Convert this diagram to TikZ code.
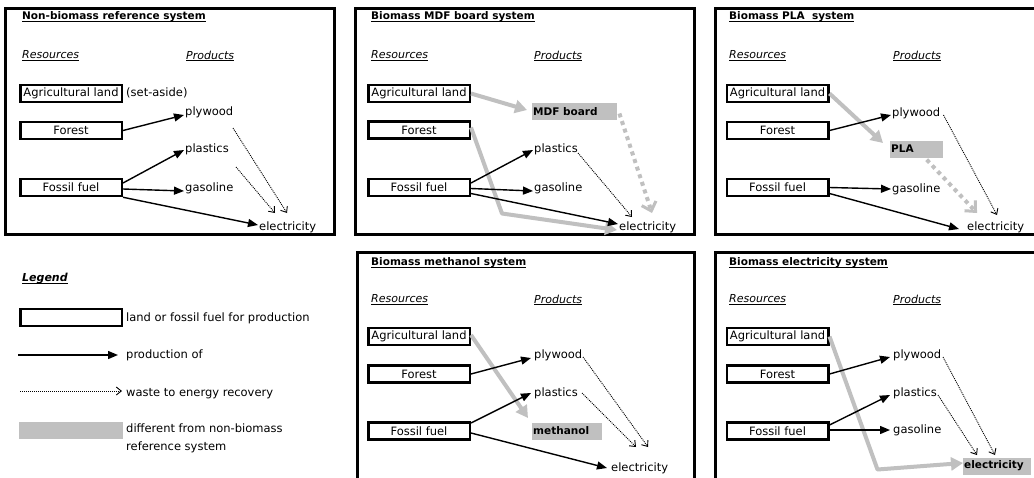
\documentclass[tikz,border=0pt]{standalone}
\usepackage{fontspec}
\setmainfont{DejaVu Sans}
\usetikzlibrary{arrows.meta}
\definecolor{silver}{RGB}{192,192,192}
\newcommand\uln[1]{\setbox0\hbox{#1}\leavevmode\rlap{\rule[-2.2pt]{\wd0}{1.1pt}}\box0}
\newcommand\fn{\fontsize{11.5}{14}\selectfont}
\tikzset{
 frame/.style={line width=3pt},
 resbox/.style={draw, line width=2.5pt, minimum width=101.5pt, minimum height=17pt, inner sep=0pt, font=\fn},
 txt/.style={anchor=west, inner sep=0pt, text height=8.5pt, text depth=2.5pt, font=\fn},
 ttl/.style={anchor=west, inner sep=0pt, font=\bfseries\fontsize{10.5}{12}\selectfont},
 hdr/.style={anchor=west, inner sep=0pt, font=\itshape\fontsize{11}{13}\selectfont},
 prod/.style={fill=silver, anchor=west, inner xsep=1pt, inner ysep=0pt, minimum height=17pt, align=left, font=\bfseries\fontsize{10.5}{12}\selectfont},
 arr/.style={line width=1.4pt, -{Triangle[length=10pt,width=8pt]}},
 dotarr/.style={line width=0.9pt, dash pattern=on 1pt off 1pt, -{Straight Barb[length=5pt,width=8pt,line width=0.9pt]}},
 garr/.style={line width=4pt, silver, line join=round, -{Triangle[length=12pt,width=13pt]}},
 gdot/.style={line width=4pt, silver, dash pattern=on 4pt off 4pt, -{Straight Barb[length=8pt,width=15pt,line width=3pt]}},
}
\begin{document}
\begin{tikzpicture}[x=1pt,y=-1pt]
\clip (0,0) rectangle (1034,477);
\fill[white] (0,0) rectangle (1034,477);

% ---------- Panel 1: Non-biomass reference system
\draw[frame] (5,8) rectangle (334,234);
\node[ttl] (t1) at (22,17) {\uln{Non-biomass reference system}};
\node[hdr] (r1) at (22,56) {\uln{Resources}};
\node[hdr] (p1) at (186,56) {\uln{Products}};
\node[resbox] (ag1) at (71,93.5) {Agricultural land};
\node[txt] (sa1) at (126,93.5) {(set-aside)};
\node[resbox] (fo1) at (71,130.5) {Forest};
\node[resbox] (ff1) at (71,187.5) {Fossil fuel};
\node[txt] (ply1) at (185,112) {plywood};
\node[txt] (pla1) at (185,149) {plastics};
\node[txt] (gas1) at (185,188) {gasoline};
\node[txt] (ele1) at (259,227) {electricity};
\draw[arr] (fo1.east) -- ([xshift=-1pt,yshift=-3pt]ply1.west);
\draw[arr] ([yshift=4.5pt]ff1.east) -- ([xshift=-1pt,yshift=-1pt]pla1.west);
\draw[arr] ([yshift=-1.5pt]ff1.east) -- ([xshift=-1pt,yshift=-3pt]gas1.west);
\draw[arr] (ff1.south east) -- ([xshift=-1pt,yshift=2pt]ele1.west);
\draw[dotarr] ([xshift=48pt,yshift=-16pt]ply1.west) -- ([xshift=28pt,yshift=14pt]ele1.west);
\draw[dotarr] ([xshift=51pt,yshift=-18pt]pla1.west) -- ([xshift=16pt,yshift=14pt]ele1.west);

% ---------- Panel 2: Biomass MDF board system
\draw[frame] (355,8) rectangle (694,234);
\node[ttl] (t2) at (371,17) {\uln{Biomass MDF board system}};
\node[hdr] (r2) at (371,56) {\uln{Resources}};
\node[hdr] (p2) at (534,56) {\uln{Products}};
\node[resbox] (ag2) at (419,93.5) {Agricultural land};
\node[resbox] (fo2) at (419,130) {Forest};
\node[resbox] (ff2) at (419,187.5) {Fossil fuel};
\node[prod, text width=83pt] (mdf) at (532,111.5) {MDF board};
\node[txt] (pla2) at (534,149) {plastics};
\node[txt] (gas2) at (534,188) {gasoline};
\node[txt] (ele2) at (619,227) {electricity};
\draw[garr] (ag2.east) -- ([xshift=-5pt,yshift=1.5pt]mdf.west);
\draw[garr] ([yshift=2.5pt]fo2.east) -- ++(31,86) -- ([xshift=-2pt,yshift=-3pt]ele2.west);
\draw[gdot] ([xshift=2pt,yshift=-2pt]mdf.east) -- ([xshift=33pt,yshift=14pt]ele2.west);
\draw[arr] ([yshift=4.5pt]ff2.east) -- ([xshift=-1pt,yshift=-1pt]pla2.west);
\draw[arr] ([yshift=-1pt]ff2.east) -- ([xshift=-1pt,yshift=-3pt]gas2.west);
\draw[arr] ([yshift=-6pt]ff2.east) -- ([xshift=-1pt,yshift=3pt]ele2.west);
\draw[dotarr] ([xshift=44pt,yshift=-4pt]pla2.west) -- ([xshift=13pt,yshift=10pt]ele2.west);

% ---------- Panel 3: Biomass PLA system
\draw[frame] (715,8) rectangle (1045,234);
\node[ttl] (t3) at (729,17) {\uln{Biomass PLA~ system}};
\node[hdr] (r3) at (729,56) {\uln{Resources}};
\node[hdr] (p3) at (893,56) {\uln{Products}};
\node[resbox] (ag3) at (777.5,93.5) {Agricultural land};
\node[resbox] (fo3) at (777.5,130.5) {Forest};
\node[resbox] (ff3) at (777.5,187.5) {Fossil fuel};
\node[txt] (ply3) at (892,113) {plywood};
\node[prod, text width=51pt] (plab) at (890,149) {PLA};
\node[txt] (gas3) at (892,189) {gasoline};
\node[txt] (ele3) at (967,227) {electricity};
\draw[garr] (ag3.east) -- ([xshift=-7pt,yshift=6pt]plab.west);
\draw[gdot] ([xshift=10pt,yshift=-2pt]plab.south) -- ([xshift=10pt,yshift=14pt]ele3.west);
\draw[arr] (fo3.east) -- ([xshift=-1pt,yshift=-2pt]ply3.west);
\draw[arr] (ff3.east) -- ([xshift=-1pt]gas3.west);
\draw[arr] ([yshift=-6pt]ff3.east) -- ([xshift=-8pt,yshift=-2pt]ele3.west);
\draw[dotarr] ([xshift=3pt,yshift=-2pt]ply3.east) -- ([xshift=30pt,yshift=12pt]ele3.west);

% ---------- Legend
\node[anchor=west, inner sep=0pt, font=\bfseries\itshape\fontsize{11}{13}\selectfont] (lg) at (22,279) {\uln{Legend}};
\node[draw, line width=2.5pt, minimum width=101.5pt, minimum height=17pt, inner sep=0pt] (lbox) at (71,317.5) {};
\node[txt] (lt1) at (126,318) {land or fossil fuel for production};
\coordinate (la) at (18,355);
\node[txt] (lt2) at (126,355) {production of};
\draw[arr] (la) -- ([xshift=-8pt]lt2.west);
\coordinate (ld) at (20,391);
\node[txt] (lt3) at (126,393) {waste to energy recovery};
\draw[dotarr] (ld) -- ([xshift=-4pt,yshift=2pt]lt3.west);
\node[fill=silver, minimum width=104pt, minimum height=17pt, inner sep=0pt] (lgr) at (71,430.5) {};
\node[anchor=north west, inner sep=0pt, align=left, font=\fontsize{11.5}{18}\selectfont] (lt4) at (126,424) {different from non-biomass\\reference system};

% ---------- Panel 4: Biomass methanol system
\draw[frame] (357,252) rectangle (694,490);
\node[ttl] (t4) at (371,263) {\uln{Biomass methanol system}};
\node[hdr] (r4) at (371,300) {\uln{Resources}};
\node[hdr] (p4) at (534,300) {\uln{Products}};
\node[resbox] (ag4) at (419,336.5) {Agricultural land};
\node[resbox] (fo4) at (419,374) {Forest};
\node[resbox] (ff4) at (419,431) {Fossil fuel};
\node[txt] (ply4) at (534,355) {plywood};
\node[txt] (pla4) at (534,393) {plastics};
\node[prod, text width=68pt] (meth) at (532,431) {methanol};
\node[txt] (ele4) at (611,468) {electricity};
\draw[garr] ([yshift=1.5pt]ag4.east) -- ([xshift=-4pt,yshift=13pt]meth.west);
\draw[arr] (fo4.east) -- ([xshift=-3pt,yshift=-3pt]ply4.west);
\draw[arr] ([yshift=8pt]ff4.east) -- ([xshift=-3pt]pla4.west);
\draw[arr] ([yshift=-2pt]ff4.east) -- ([xshift=-4pt]ele4.west);
\draw[dotarr] ([xshift=49pt,yshift=-2pt]ply4.west) -- ([xshift=37pt,yshift=21pt]ele4.west);
\draw[dotarr] ([xshift=48pt]pla4.west) -- ([xshift=25pt,yshift=21pt]ele4.west);

% ---------- Panel 5: Biomass electricity system
\draw[frame] (715,252) rectangle (1045,490);
\node[ttl] (t5) at (729,263) {\uln{Biomass electricity system}};
\node[hdr] (r5) at (729,300) {\uln{Resources}};
\node[hdr] (p5) at (893,300) {\uln{Products}};
\node[resbox] (ag5) at (777.5,336.5) {Agricultural land};
\node[resbox] (fo5) at (777.5,374) {Forest};
\node[resbox] (ff5) at (777.5,431) {Fossil fuel};
\node[txt] (ply5) at (893,355) {plywood};
\node[txt] (pla5) at (893,393) {plastics};
\node[txt] (gas5) at (893,430) {gasoline};
\node[prod, text width=66pt] (ele5) at (963,466) {electricity};
\draw[garr] (ag5.east) -- ++(48,133) -- ([yshift=3pt]ele5.west);
\draw[arr] (fo5.east) -- ([xshift=-3pt,yshift=-2pt]ply5.west);
\draw[arr] ([yshift=6pt]ff5.east) -- ([xshift=-3pt,yshift=-2pt]pla5.west);
\draw[arr] ([yshift=1pt]ff5.east) -- ([xshift=-3pt]gas5.west);
\draw[dotarr] ([xshift=50pt,yshift=-2pt]ply5.west) -- ([xshift=32pt,yshift=11pt]ele5.west);
\draw[dotarr] ([xshift=45pt,yshift=-2pt]pla5.west) -- ([xshift=14pt,yshift=11pt]ele5.west);
\end{tikzpicture}
\end{document}
